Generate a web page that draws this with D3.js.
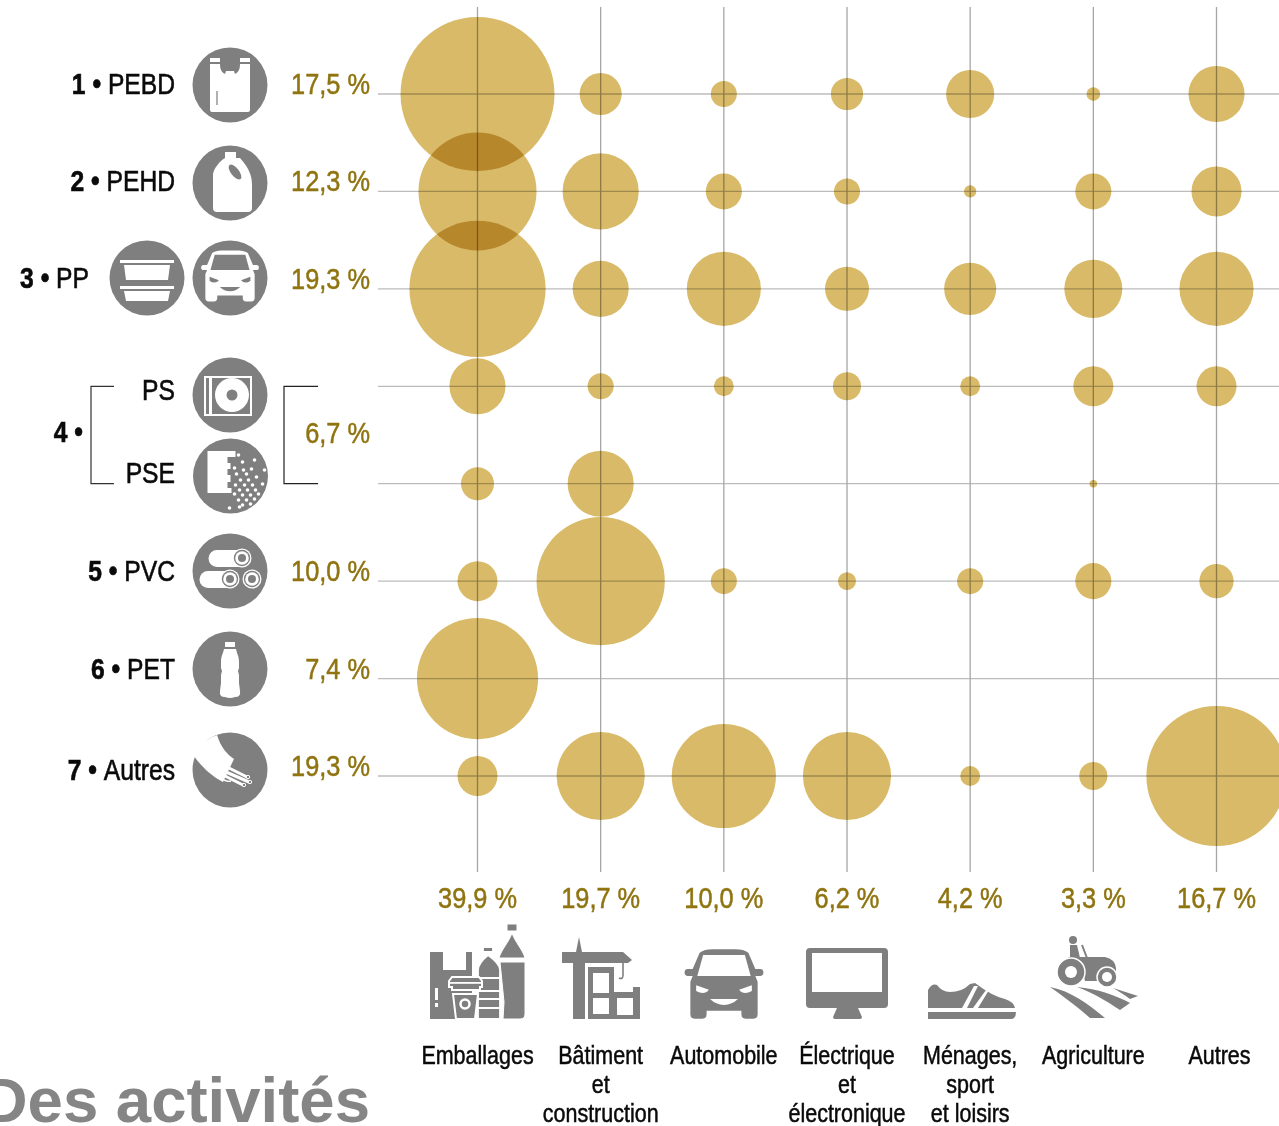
<!DOCTYPE html>
<html lang="fr">
<head>
<meta charset="UTF-8">
<title>Plastiques par secteur</title>
<script src="https://d3js.org/d3.v7.min.js"></script>
<style>
  html, body { margin: 0; padding: 0; background: #fff; overflow: hidden; }
  svg { display: block; }
  text { font-family: "Liberation Sans", sans-serif; }
  .name { font-size: 29px; fill: #0a0a0a; text-anchor: end; stroke: #0a0a0a; stroke-width: .6px; }
  .pct { font-size: 29px; fill: #8f7410; text-anchor: end; stroke: #8f7410; stroke-width: .5px; }
  .sector { font-size: 25px; fill: #0a0a0a; text-anchor: middle; stroke: #0a0a0a; stroke-width: .5px; }
  .bubble { mix-blend-mode: multiply; }
</style>
</head>
<body>
<svg id="chart" width="1279" height="1126"></svg>
<script>
const sectors = ["Emballages", "Bâtiment", "Automobile", "Électrique", "Ménages", "Agriculture", "Autres"];
const sectorTotals = ["39,9 %", "19,7 %", "10,0 %", "6,2 %", "4,2 %", "3,3 %", "16,7 %"];
const sectorLabels = [["Emballages"], ["Bâtiment", "et", "construction"], ["Automobile"],
  ["Électrique", "et", "électronique"], ["Ménages,", "sport", "et loisirs"], ["Agriculture"], ["Autres"]];

const resins = ["PEBD", "PEHD", "PP", "PS", "PSE", "PVC", "PET", "Autres"];
const resinNumbers = ["1 •", "2 •", "3 •", "", "", "5 •", "6 •", "7 •"];
const resinTotals = ["17,5 %", "12,3 %", "19,3 %", null, null, "10,0 %", "7,4 %", "19,3 %"];

// share of total demand, one row per resin
const pebd = [12.6, 0.94, 0.36, 0.55, 1.23, 0.10, 1.67];
const pehd = [7.4, 3.08, 0.69, 0.36, 0.08, 0.69, 1.33];
const pp = [9.86, 1.67, 2.92, 1.03, 1.44, 1.79, 2.92];
const ps = [1.67, 0.36, 0.21, 0.42, 0.21, 0.85, 0.85];
const pse = [0.58, 2.32, 0, 0, 0, 0.03, 0];
const pvc = [0.85, 8.73, 0.36, 0.17, 0.36, 0.69, 0.62];
const pet = [7.8, 0, 0, 0, 0, 0, 0];
const autres = [0.85, 4.13, 5.77, 4.13, 0.21, 0.42, 10.45];
const rows = [pebd, pehd, pp, ps, pse, pvc, pet, autres];

const svg = d3.select("#chart");
const x = d3.scalePoint().domain(sectors).range([477.5, 1216.5]);
const y = d3.scalePoint().domain(resins).range([94, 776]);
const r = d3.scaleSqrt().domain([0, 12.6]).range([0, 77]);

const cells = rows.flatMap((row, i) => row.map((v, j) => ({ resin: resins[i], sector: sectors[j], v })))
  .filter(d => d.v > 0);

// the type is a condensed face in the original, so squeeze it sideways
const squeeze = (sel, fx, fy, sx) => sel.attr("transform", (d, i) => `translate(${fx(d, i)},${fy(d, i)}) scale(${sx},1)`);

const grid = svg.append("g").attr("stroke-width", 1.3);
grid.selectAll(".h").data(resins).join("line").attr("class", "h").attr("stroke", "#bcbcbc")
  .attr("x1", 378).attr("x2", 1279).attr("y1", d => y(d)).attr("y2", d => y(d));
grid.selectAll(".v").data(sectors).join("line").attr("class", "v").attr("stroke", "#a6a6a6")
  .attr("y1", 7).attr("y2", 872).attr("x1", d => x(d)).attr("x2", d => x(d));

// multiply gives the darker overlap and keeps the grid visible
svg.append("g").selectAll("circle").data(cells).join("circle").attr("class", "bubble")
  .attr("cx", d => x(d.sector)).attr("cy", d => y(d.resin)).attr("r", d => r(d.v))
  .attr("fill", "#d8ba68");

// left labels
const names = svg.append("g").selectAll("text").data(resins).join("text").attr("class", "name");
names.append("tspan").attr("font-weight", "bold").text((d, i) => resinNumbers[i] ? resinNumbers[i] + " " : "");
names.append("tspan").text(d => d);
squeeze(names, (d, i) => i === 2 ? 89 : 175, (d, i) => y(d) + [0, 0, -1, 14, -1, 0, 0, 4][i], .85);
svg.append("text").attr("class", "name").attr("font-weight", "bold").attr("transform", "translate(83,442) scale(.85,1)").text("4 •");

const leftPct = svg.append("g").selectAll("text").data(resins.filter((d, i) => resinTotals[i])).join("text").attr("class", "pct")
  .text(d => resinTotals[resins.indexOf(d)]);
squeeze(leftPct, () => 370, d => y(d), .875);
svg.append("text").attr("class", "pct").attr("transform", "translate(370,443) scale(.875,1)").text("6,7 %");

// brackets round PS / PSE
svg.append("path").attr("fill", "none").attr("stroke", "#333").attr("stroke-width", 1.2)
  .attr("d", `M114,${y("PS")}H91V${y("PSE")}H114`);
svg.append("path").attr("fill", "none").attr("stroke", "#222").attr("stroke-width", 1.2)
  .attr("d", `M318,${y("PS")}H284V${y("PSE")}H318`);

// bottom labels
const bottomPct = svg.append("g").selectAll("text").data(sectors).join("text").attr("class", "pct")
  .style("text-anchor", "middle").text((d, i) => sectorTotals[i]);
squeeze(bottomPct, d => x(d), () => 908, .875);
sectorLabels.forEach((lines, i) => {
  const t = svg.append("g").selectAll("text").data(lines).join("text").attr("class", "sector").text(d => d);
  squeeze(t, () => x(sectors[i]) + (i === 6 ? 3 : 0), (d, k) => 1064 + k * 29, .86);
});

svg.append("text").attr("x", 370).attr("y", 1122).attr("text-anchor", "end")
  .style("font-weight", "bold").style("font-size", "63.5px")
  .attr("fill", "#858585").text("Des activités");

// pictograms
const GREY = "#7f7f7f";
function disc(cx, cy, draw) {
  const g = svg.append("g").attr("transform", `translate(${cx},${cy})`);
  g.append("circle").attr("r", 37.5).attr("fill", GREY);
  draw(g.append("g").attr("fill", "#fff"), g);
}
function car(parent, fill, hole, s) {
  const c = parent.append("g").attr("transform", `scale(${s})`);
  c.append("path").attr("fill", fill).attr("d", "M-21,-27Q-17,-30 -10,-30H10Q17,-30 21,-27L27,-13H31Q34,-13 34,-10Q34,-7 31,-7H27L29,-2V26Q29,30 25,30H19Q15,30 15,26V23H-15V26Q-15,30 -19,30H-25Q-29,30 -29,26V-2L-27,-7H-31Q-34,-7 -34,-10Q-34,-13 -31,-13H-27Z");
  c.append("path").attr("fill", hole).attr("d", "M-18,-25H18L23,-7H-23Z");
  c.append("path").attr("fill", hole).attr("d", "M-24,1L-13,5Q-17,10 -24,6ZM24,1L13,5Q17,10 24,6Z");
  c.append("path").attr("fill", hole).attr("d", "M-12,13H12Q7,18 0,18Q-7,18 -12,13Z");
}
disc(230, 85, (w, g) => {
  w.append("path").attr("d", "M-20,-27H-10V-23H-20ZM10,-27H20V-23H10ZM-20,-21H-10C-10,-14 -7,-12 -5,-11L-4,-14H4L5,-11C7,-12 10,-14 10,-21H20V25Q20,27 18,27H-18Q-20,27 -20,25Z");
  g.append("rect").attr("x", -13.6).attr("y", 6).attr("width", 1.2).attr("height", 14).attr("fill", GREY);
});
disc(230, 183, (w, g) => {
  w.append("path").attr("d", "M-5,-31H6V-25H10C20,-14 22,-6 22,2V25Q22,29 18,29H-13Q-17,29 -17,25V-8C-17,-14 -10,-22 -5,-25Z");
  g.append("ellipse").attr("cx", 5).attr("cy", -11).attr("rx", 4).attr("ry", 9).attr("transform", "rotate(-38 5 -11)").attr("fill", GREY);
});
disc(147, 278, w => {
  w.append("rect").attr("x", -27).attr("y", -18).attr("width", 54).attr("height", 3);
  w.append("path").attr("d", "M-23,-13H23L21,2H-21Z");
  w.append("rect").attr("x", -27).attr("y", 8).attr("width", 54).attr("height", 3);
  w.append("path").attr("d", "M-23,13H23L21,23H-21Z");
});
disc(230, 278, (w, g) => car(g.append("g").attr("transform", "translate(0,-2)"), "#fff", GREY, .85));
disc(230, 395, (w, g) => {
  w.append("path").attr("fill-rule", "evenodd").attr("d", "M-26,-19H22V21H-26ZM-24,-17V19H-21V-17ZM-18,-17V19H20V-17Z");
  w.append("circle").attr("cx", 2).attr("cy", 0).attr("r", 17);
  g.append("circle").attr("cx", 2).attr("cy", 0).attr("r", 5.5).attr("fill", GREY);
  w.append("circle").attr("cx", 2).attr("cy", 0).attr("r", 3);
});
// beads of the foam picture, placed by hand
const beads = [[8,-21],[24,-16],[12,-14],[4,-8],[21,-7],[34,-6],[13,-6],[6,-2],[16,-2],[26,1],[10,4],[18,4],[32,8],[5,9],[14,9],[22,9],[9,14],[17,14],[25,14],[4,18],[12,19],[20,19],[28,18],[8,24],[16,24],[24,23],[12,29],[20,28],[-1,32],[9,31]];
disc(230.5, 476, w => {
  w.append("path").attr("d", "M-23,-25H5V-19H-3V-13H0V-7H-3V-1H0V6H-3V12H1V17H-23Z");
  w.selectAll("circle").data(beads).join("circle").attr("cx", d => d[0]).attr("cy", d => d[1]).attr("r", 1.8);
});
disc(230, 571, (w, g) => {
  const ring = (cx, cy) => [[9.5, "#fff"], [8.2, GREY], [6.8, "#fff"], [4, GREY]].forEach(([q, f]) =>
    g.append("circle").attr("cx", cx).attr("cy", cy).attr("r", q).attr("fill", f));
  w.append("path").attr("d", "M-13,-21H12V-4H-13A8.5,8.5 0 0 1 -13,-21Z");
  ring(12, -13);
  w.append("path").attr("d", "M-22,0H0V17H-22A8.5,8.5 0 0 1 -22,0Z");
  ring(0, 8);
  ring(22, 8);
});
disc(230, 669, w => {
  w.append("path").attr("d", "M-5,-27H5V-22H-5ZM-6,-20H6C7,-15 9,-13 9,-7V-1L8,2L9,6V14L10,22Q11,28 5,28Q0,30 -5,28Q-11,28 -10,22L-9,14V6L-8,2L-9,-1V-7C-9,-13 -7,-15 -6,-20Z");
});
disc(230, 770, (w, g) => {
  w.append("path").attr("d", "M-13,-35C-9,-22 -2,-15 4,-11L-7,12C-19,6 -30,-5 -36,-14A37.5,37.5 0 0 1 -13,-35Z");
  g.append("path").attr("fill", "none").attr("stroke", "#fff").attr("stroke-width", 1.4)
    .attr("d", "M-4,-13C-12,-8 -14,3 -6,10Q-2,12 1,11M1,-9C-6,-5 -8,3 -3,7");
  const cable = g.append("g").attr("fill", "none").attr("stroke", "#fff").attr("stroke-width", 3).attr("stroke-linecap", "round");
  cable.append("path").attr("d", "M-3,-3L17,7M-4,2L19,12M-5,6L13,15");
  g.selectAll(".end").data([[18,7],[20,12],[14,15]]).join("circle").attr("class", "end")
    .attr("cx", d => d[0]).attr("cy", d => d[1]).attr("r", 1.7).attr("fill", GREY).attr("stroke", "#fff");
});

// sector pictograms, same grey on white
function pic(cx, cy, draw) {
  draw(svg.append("g").attr("transform", `translate(${cx},${cy})`).attr("fill", GREY));
}
pic(477, 972, g => {
  g.append("path").attr("d", "M-47,-20H-34V-2H-11V-20H-5V47H-47Z");
  g.append("path").attr("d", "M6,-25H16V-20H6ZM11,-17C18,-12 23,-7 23,-2V47H1V-2C1,-7 5,-12 11,-17Z").attr("stroke", "#fff").attr("stroke-width", 1.8);
  g.selectAll(".band").data([5, 18, 26, 35]).join("rect").attr("class", "band")
    .attr("x", 1).attr("y", d => d).attr("width", 22).attr("height", 2).attr("fill", "#fff");
  g.append("path").attr("d", "M30,-48H40V-41H30ZM35,-39C38,-30 46,-22 48,-14H22C24,-22 32,-30 35,-39ZM23,-10H48V42Q48,47 43,47H26L27,30Z").attr("stroke", "#fff").attr("stroke-width", 1);
  g.append("path").attr("d", "M-28,9L-25,5H2L5,9V15H3V18H-25V15H-28ZM-24,22H1L-2,47H-21Z").attr("stroke", "#fff").attr("stroke-width", 2);
  g.append("rect").attr("x", -28).attr("y", 10).attr("width", 33).attr("height", 1.8).attr("fill", "#fff");
  g.append("circle").attr("cx", -12).attr("cy", 32).attr("r", 4.5).attr("fill", "none").attr("stroke", "#fff").attr("stroke-width", 2.5);
  g.append("path").attr("d", "M-42,16H-39V28H-42ZM-42,31H-39V35H-42Z").attr("fill", "#fff");
});
pic(600, 972, g => {
  g.append("path").attr("d", "M-38,-20H-24L-21,-35L-18,-20H23L32,-12L28,-9H-15V47H-27V-9H-38Z");
  g.append("path").attr("fill", "none").attr("stroke", GREY).attr("stroke-width", 1.6).attr("d", "M23,-9V3Q23,8 19,6");
  g.append("path").attr("fill-rule", "evenodd").attr("d", "M-12,-5H14V20H33V15H40V47H-12ZM-7,1V21H9V1ZM-7,26V42H9V26ZM17,26V43H33V26Z");
});
pic(724, 984, g => car(g, GREY, "#fff", 1.16));
pic(847, 984, g => {
  g.append("path").attr("fill-rule", "evenodd").attr("d", "M-37,-36H37Q41,-36 41,-32V20Q41,24 37,24H11L15,33Q15,35 13,35H-12Q-14,35 -14,33L-10,24H-37Q-41,24 -41,20V-32Q-41,-36 -37,-36ZM-35,-31V8H35V-31Z");
});
pic(970, 998, g => {
  g.append("path").attr("d", "M-42,10V-8Q-38,-15 -33,-13Q-28,-6 -20,-6Q-8,-6 0,-14L5,-15Q22,-2 35,1Q44,4 45,10Z");
  g.append("path").attr("fill", "#fff").attr("d", "M-8,10L4,-12H8L-3,10ZM3,10L16,-8H19L8,10Z");
  g.append("path").attr("d", "M-42,14H46Q46,20 42,21H-42Z");
});
pic(1093, 986, g => {
  g.append("circle").attr("cx", -20).attr("cy", -46).attr("r", 4);
  g.append("path").attr("d", "M-23,-41H-16L-13,-28H-23Z");
  g.append("path").attr("fill", "none").attr("stroke", GREY).attr("stroke-width", 2).attr("d", "M-11,-41L-6,-28");
  g.append("path").attr("d", "M-24,-29H12Q22,-27 23,-18V-7Q14,-18 4,-5H-8C-10,-16 -16,-24 -30,-22Z");
  g.append("circle").attr("cx", -22).attr("cy", -14).attr("r", 14).attr("stroke", "#fff").attr("stroke-width", 1.5);
  g.append("circle").attr("cx", -22).attr("cy", -14).attr("r", 6).attr("fill", "#fff");
  g.append("circle").attr("cx", 14).attr("cy", -9).attr("r", 10).attr("stroke", "#fff").attr("stroke-width", 1.5);
  g.append("circle").attr("cx", 14).attr("cy", -9).attr("r", 5).attr("fill", "#fff");
  g.append("path").attr("d", "M-43,1C-22,5 -5,18 12,32L-3,32C-14,22 -30,10 -43,1ZM-16,1C5,3 22,9 37,17L27,24C12,14 0,7 -16,1ZM20,2L45,10L37,13C30,8 25,5 20,2Z");
});
</script>
</body>
</html>
